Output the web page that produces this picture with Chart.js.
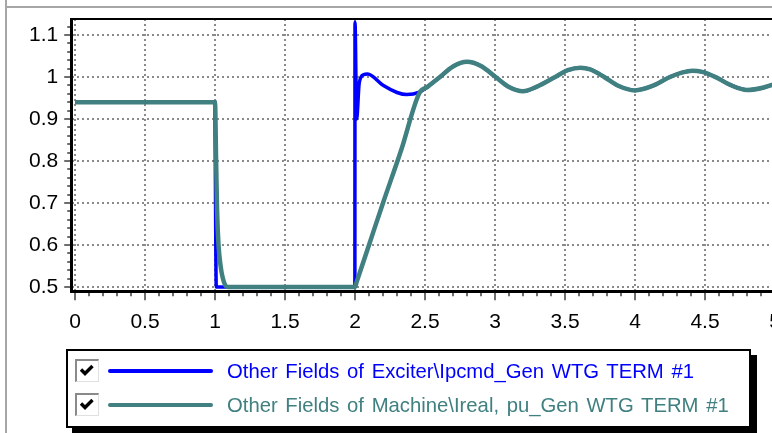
<!DOCTYPE html>
<html>
<head>
<meta charset="utf-8">
<script src="https://cdn.jsdelivr.net/npm/chart.js@4/dist/chart.umd.min.js"></script>
<style>
html,body{margin:0;padding:0;background:#fff;}
body{width:772px;height:433px;overflow:hidden;position:relative;font-family:"Liberation Sans",Arial,sans-serif;}
#wrap{position:absolute;left:0;top:0;width:800px;height:433px;}
#frameTop{position:absolute;left:5px;top:6px;width:800px;height:2px;background:#a6a6a6;}
#frameLeft{position:absolute;left:5px;top:0;width:2px;height:433px;background:#a6a6a6;}
#legend{position:absolute;left:66px;top:349px;width:681px;height:75px;border:2px solid #000;background:#fff;box-shadow:6px 6px 0 #000;}
.row{position:absolute;left:0;width:681px;height:30px;}
.cb{position:absolute;left:7px;top:3px;width:21px;height:20px;border-top:2px solid #8a8a8a;border-left:2px solid #8a8a8a;border-right:1px solid #e0e0e0;border-bottom:1px solid #e0e0e0;background:#fff;}
.cb svg{position:absolute;left:1px;top:1px;}
.sample{position:absolute;left:40px;top:13px;width:105px;height:4px;border-radius:2px;}
.txt{position:absolute;left:159px;top:2px;font-size:20.3px;line-height:26px;white-space:nowrap;word-spacing:2px;}
</style>
</head>
<body>
<div id="frameLeft"></div>
<div id="frameTop"></div>
<div id="wrap"><canvas id="c" width="800" height="433"></canvas></div>
<div id="legend"></div>
<script>
// ---- data ----
const seriesNames = [
  'Other Fields of Exciter\\Ipcmd_Gen WTG TERM #1',
  'Other Fields of Machine\\Ireal, pu_Gen WTG TERM #1'
];
const seriesColors = ['#0000ff', '#408080'];

const xTickValues = [0, 0.5, 1, 1.5, 2, 2.5, 3, 3.5, 4, 4.5, 5];
const xTickLabels = ['0', '0.5', '1', '1.5', '2', '2.5', '3', '3.5', '4', '4.5', '5'];
const yTickValues = [0.5, 0.6, 0.7, 0.8, 0.9, 1, 1.1];
const yTickLabels = ['0.5', '0.6', '0.7', '0.8', '0.9', '1', '1.1'];

const timeIpcmd = [0, 0.999, 1.003, 1.006, 1.009, 1.999, 2.0, 2.012, 2.03, 2.06, 2.09, 2.2, 2.3, 2.37, 2.46,
  2.52, 2.6, 2.7, 2.8, 2.9, 3.0, 3.1, 3.2, 3.3, 3.43, 3.52, 3.61, 3.68, 3.78, 3.88, 4.0, 4.12, 4.25, 4.34, 4.41, 4.48, 4.58, 4.68, 4.8, 4.92, 5.05];
const ipcmdValues = [0.94, 0.94, 0.75, 0.58, 0.5, 0.5, 1.13, 0.9, 0.985, 1.005, 1.007, 0.98, 0.963, 0.958, 0.964,
  0.977, 0.998, 1.025, 1.036, 1.026, 1.001, 0.976, 0.966, 0.977, 1.0, 1.016, 1.022, 1.018, 1.0, 0.979, 0.968, 0.978, 1.0, 1.011, 1.015, 1.012, 0.999, 0.981, 0.969, 0.975, 0.99];

const timeIreal = [0, 1.0, 1.008, 1.015, 1.025, 1.04, 1.055, 1.075, 1.09, 2.0, 2.012, 2.1, 2.2, 2.33, 2.46,
  2.52, 2.6, 2.7, 2.8, 2.9, 3.0, 3.1, 3.2, 3.3, 3.43, 3.52, 3.61, 3.68, 3.78, 3.88, 4.0, 4.12, 4.25, 4.34, 4.41, 4.48, 4.58, 4.68, 4.8, 4.92, 5.05];
const irealValues = [0.94, 0.94, 0.8, 0.68, 0.6, 0.55, 0.522, 0.503, 0.5, 0.5, 0.512, 0.6, 0.7, 0.826, 0.962,
  0.977, 0.998, 1.025, 1.036, 1.026, 1.001, 0.976, 0.966, 0.977, 1.0, 1.016, 1.022, 1.018, 1.0, 0.979, 0.968, 0.978, 1.0, 1.011, 1.015, 1.012, 0.999, 0.981, 0.969, 0.975, 0.99];

const toPoints = (t, v) => t.map((x, i) => ({x: x, y: v[i]}));

const axisDecor = {
  id: 'axisDecor',
  afterDraw(chart) {
    const {ctx, chartArea: a, scales: {x, y}} = chart;
    ctx.save();
    ctx.strokeStyle = '#6e6e6e';
    ctx.lineWidth = 2;
    for (let k = 0; k <= 50; k++) {
      const px = Math.round(x.getPixelForValue(k / 10));
      const major = k % 5 === 0;
      ctx.beginPath();
      ctx.moveTo(px, a.bottom + 2);
      ctx.lineTo(px, a.bottom + (major ? 10 : 6));
      ctx.stroke();
    }
    for (let k = 0; k <= 32; k++) {
      const v = 0.5 + k * 0.02;
      if (v > y.max) break;
      const py = Math.round(y.getPixelForValue(v));
      const major = k % 5 === 0;
      ctx.beginPath();
      ctx.moveTo(a.left - 2, py);
      ctx.lineTo(a.left - (major ? 8 : 5), py);
      ctx.stroke();
    }
    ctx.strokeStyle = '#000';
    ctx.lineWidth = 2;
    ctx.beginPath();
    ctx.moveTo(a.left - 2, a.top);
    ctx.lineTo(a.right + 10, a.top);
    ctx.stroke();
    ctx.lineWidth = 3;
    ctx.beginPath();
    ctx.moveTo(a.left - 0.7, a.top - 1);
    ctx.lineTo(a.left - 0.7, a.bottom + 2.5);
    ctx.stroke();
    ctx.beginPath();
    ctx.moveTo(a.left - 2, a.bottom + 1.2);
    ctx.lineTo(a.right + 10, a.bottom + 1.2);
    ctx.stroke();
    ctx.restore();
  }
};

const tickFont = {family: '"Liberation Sans", Arial, sans-serif', size: 21};

const chart = new Chart(document.getElementById('c'), {
  type: 'line',
  data: {
    datasets: [
      {label: seriesNames[0], data: toPoints(timeIpcmd, ipcmdValues), borderColor: seriesColors[0],
       borderWidth: 3.5, pointRadius: 0, cubicInterpolationMode: 'monotone', order: 2},
      {label: seriesNames[1], data: toPoints(timeIreal, irealValues), borderColor: seriesColors[1],
       borderWidth: 4.5, pointRadius: 0, cubicInterpolationMode: 'monotone', order: 1}
    ]
  },
  options: {
    responsive: false,
    animation: false,
    devicePixelRatio: 1,
    layout: {padding: {top: 19, right: 18, left: 0, bottom: 0}},
    plugins: {legend: {display: false}, tooltip: {enabled: false}},
    scales: {
      x: {
        type: 'linear', min: -0.02, max: 5.05,
        afterBuildTicks: s => { s.ticks = xTickValues.map(v => ({value: v})); },
        afterFit: s => { s.height = 433 - 290.3; s.paddingLeft = 0; s.paddingRight = 0; },
        ticks: {font: tickFont, color: '#000', padding: 19, maxRotation: 0, autoSkip: false,
                callback: (v) => xTickLabels[xTickValues.indexOf(v)]},
        grid: {color: '#8a8a8a', lineWidth: 2, drawTicks: false, borderDash: [2, 3]},
        border: {display: false, dash: [2, 3]}
      },
      y: {
        type: 'linear', min: 0.492, max: 1.138,
        afterBuildTicks: s => { s.ticks = yTickValues.map(v => ({value: v})); },
        afterFit: s => { s.width = 72.2; s.paddingTop = 0; s.paddingBottom = 0; },
        ticks: {font: tickFont, color: '#000', padding: 14, autoSkip: false,
                callback: (v) => yTickLabels[yTickValues.indexOf(v)]},
        grid: {color: '#8a8a8a', lineWidth: 2, drawTicks: false, borderDash: [2, 3]},
        border: {display: false, dash: [2, 3]}
      }
    }
  },
  plugins: [axisDecor]
});

const legend = document.getElementById('legend');
chart.data.datasets.forEach((ds, i) => {
  const row = document.createElement('div');
  row.className = 'row';
  row.style.top = (5 + i * 34) + 'px';
  row.innerHTML = '<div class="cb"><svg width="18" height="17" viewBox="0 0 18 17"><path d="M3 7.5 L7 11.5 L14.5 4" stroke="#000" stroke-width="3.4" fill="none"/></svg></div>' +
    '<div class="sample" style="background:' + ds.borderColor + '"></div>';
  const t = document.createElement('div');
  t.className = 'txt';
  t.style.color = ds.borderColor;
  t.textContent = ds.label;
  row.appendChild(t);
  legend.appendChild(row);
});
</script>
</body>
</html>
